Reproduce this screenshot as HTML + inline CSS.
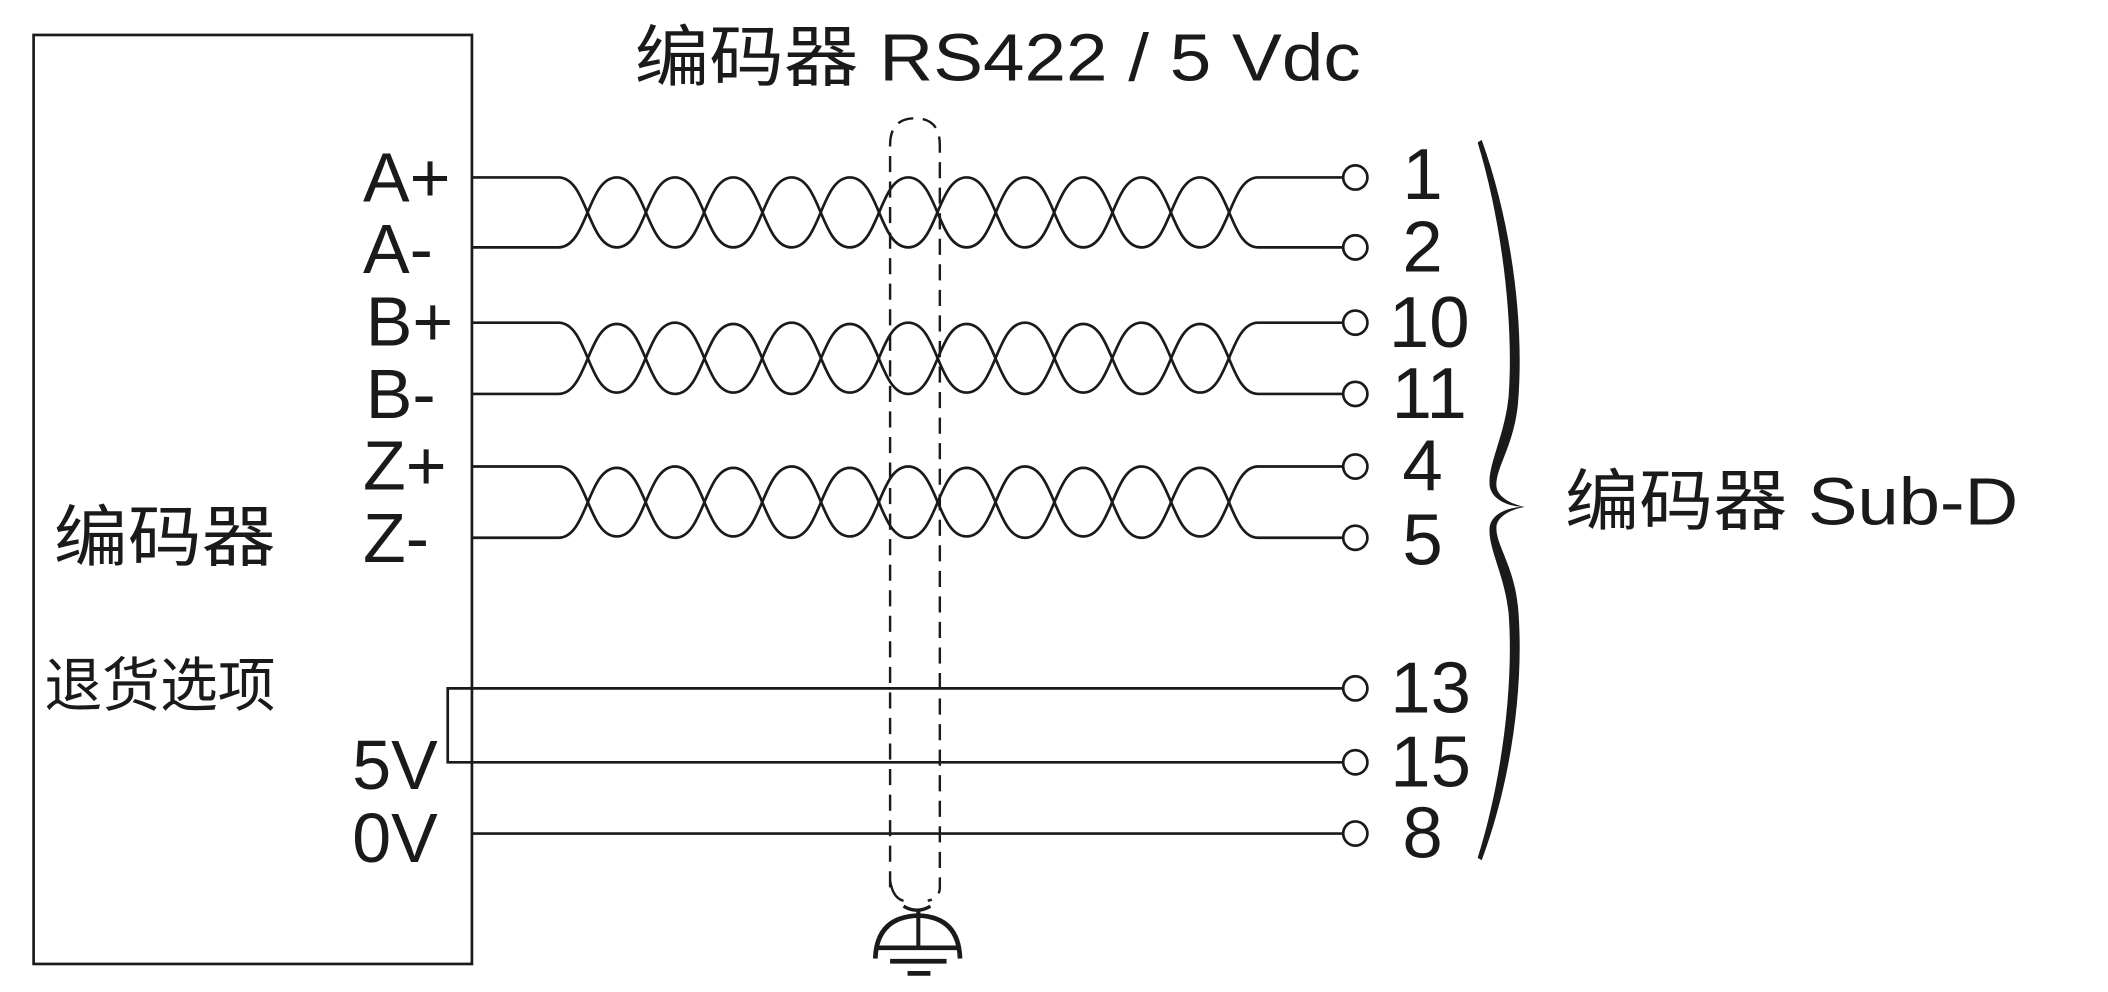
<!DOCTYPE html>
<html><head><meta charset="utf-8"><style>
html,body{margin:0;padding:0;background:#fff;}
svg{display:block;}
text{font-family:"Liberation Sans","Noto Sans CJK SC",sans-serif;fill:#1a1a1a;}
</style></head><body>
<svg width="2108" height="992" viewBox="0 0 1549 729" preserveAspectRatio="none" xmlns="http://www.w3.org/2000/svg">
<g transform="scale(0.988)">
<g fill="none" stroke="#1a1a1a" stroke-width="2">
<rect x="25" y="26" width="326" height="691"/>
<path id="w1" d="M351,132 H415.3 C437,132 437,184 458.7,184 C480.4,184 480.4,132 502,132 C523.7,132 523.7,184 545.4,184 C567.1,184 567.1,132 588.8,132 C610.4,132 610.4,184 632.1,184 C653.8,184 653.8,132 675.5,132 C697.2,132 697.2,184 718.9,184 C740.6,184 740.6,132 762.3,132 C784,132 784,184 805.7,184 C827.4,184 827.4,132 849.1,132 C870.8,132 870.8,184 892.5,184 C914.2,184 914.2,132 935.7,132 H999"/>
<path id="w2" d="M351,184 H415.3 C437,184 437,132 458.7,132 C480.4,132 480.4,184 502,184 C523.7,184 523.7,132 545.4,132 C567.1,132 567.1,184 588.8,184 C610.4,184 610.4,132 632.1,132 C653.8,132 653.8,184 675.5,184 C697.2,184 697.2,132 718.9,132 C740.6,132 740.6,184 762.3,184 C784,184 784,132 805.7,132 C827.4,132 827.4,184 849.1,184 C870.8,184 870.8,132 892.5,132 C914.2,132 914.2,184 935.7,184 H999"/>
<use href="#w1" transform="translate(0,108)"/>
<use href="#w2" transform="translate(0,109)"/>
<use href="#w1" transform="translate(0,215)"/>
<use href="#w2" transform="translate(0,216)"/>
<path d="M999,512 H333 V567 H999"/>
<path d="M351,620 H999"/>
<circle cx="1008" cy="132" r="9"/><circle cx="1008" cy="184" r="9"/>
<circle cx="1008" cy="240" r="9"/><circle cx="1008" cy="293" r="9"/>
<circle cx="1008" cy="347" r="9"/><circle cx="1008" cy="400" r="9"/>
<circle cx="1008" cy="512" r="9"/><circle cx="1008" cy="567" r="9"/>
<circle cx="1008" cy="620" r="9"/>
<path d="M662,660 V108 Q662,88 680.5,88 Q699,88 699,108 V660 Q699,668 690,670" stroke-dasharray="12,7" stroke-width="1.8"/>
<path d="M662,655 Q664,668 672,670" stroke-width="1.8"/>
<path d="M672,674 Q682,680 692,674" stroke-width="2.5"/>
<path d="M683,677 V705" stroke-width="3"/>
<path d="M651,713 Q652,682 683,681 Q713,682 714,713" stroke-width="3.5"/>
<path d="M653,705 H713 M662,715 H704 M675,724 H692" stroke-width="3.5"/>
</g>
<g fill="#1a1a1a">
<path d="M1102,104 C1124,165 1134,240 1129,300 C1126,332 1112,348 1113,362 C1114,370 1124,375 1134,377 C1122,377 1110,372 1108,362 C1106,346 1119,325 1122,295 C1126,240 1117,165 1099,106 Z"/>
<path transform="translate(0,377) scale(1,-0.963) translate(0,-377)" d="M1102,104 C1124,165 1134,240 1129,300 C1126,332 1112,348 1113,362 C1114,370 1124,375 1134,377 C1122,377 1110,372 1108,362 C1106,346 1119,325 1122,295 C1126,240 1117,165 1099,106 Z"/>
</g>
<text x="472" y="60" font-size="50" textLength="540" lengthAdjust="spacingAndGlyphs">编码器 RS422 / 5 Vdc</text>
<text x="1164" y="390" font-size="50" textLength="337" lengthAdjust="spacingAndGlyphs">编码器 Sub-D</text>
<text x="40" y="417" font-size="50" textLength="165" lengthAdjust="spacingAndGlyphs">编码器</text>
<text x="33" y="525" font-size="44" textLength="172" lengthAdjust="spacingAndGlyphs">退货选项</text>
<g font-size="52">
<text x="270" y="150">A+</text>
<text x="270" y="203">A-</text>
<text x="272" y="257">B+</text>
<text x="272" y="311">B-</text>
<text x="270" y="364">Z+</text>
<text x="270" y="418">Z-</text>
<text x="262" y="587">5V</text>
<text x="262" y="641">0V</text>
</g>
<g font-size="54" text-anchor="middle">
<text x="1058" y="148">1</text>
<text x="1058" y="202">2</text>
<text x="1063" y="258">10</text>
<text x="1063" y="311">11</text>
<text x="1058" y="365">4</text>
<text x="1058" y="420">5</text>
<text x="1064" y="530">13</text>
<text x="1064" y="585">15</text>
<text x="1058" y="638">8</text>
</g>
</g>
</svg>
</body></html>
